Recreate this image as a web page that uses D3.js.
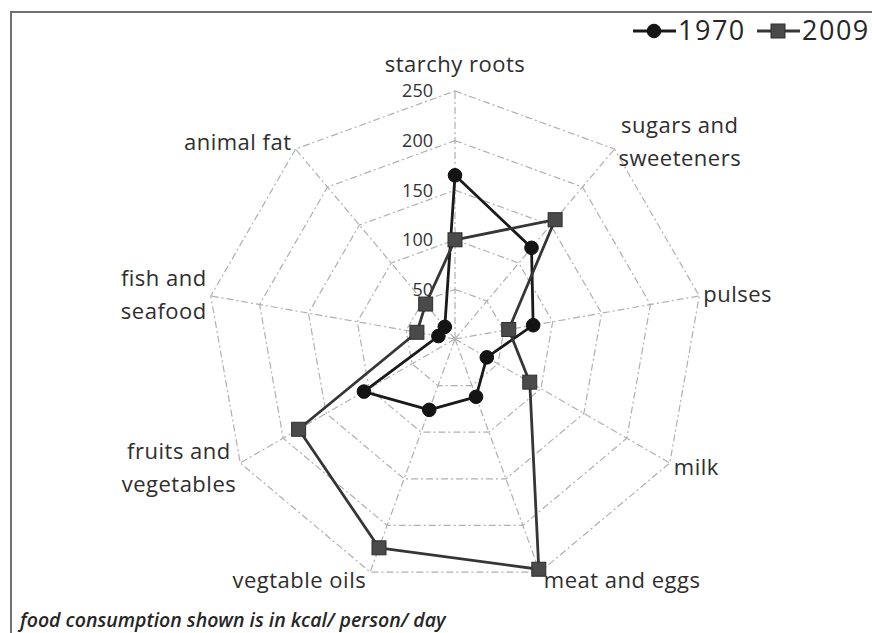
<!DOCTYPE html>
<html>
<head>
<meta charset="utf-8">
<script src="https://cdn.jsdelivr.net/npm/d3@7"></script>
<style>
  html, body { margin: 0; padding: 0; background: #fff; }
  svg { display: block; }
  text { font-family: "Open Sans", Lato, sans-serif; }
</style>
</head>
<body>
<svg id="chart" width="872" height="633"></svg>
<script>
// Food consumption by group, kcal per person per day
const categories = [
  "starchy roots",
  "sugars and\nsweeteners",
  "pulses",
  "milk",
  "meat and eggs",
  "vegtable oils",
  "fruits and\nvegetables",
  "fish and\nseafood",
  "animal fat"
];
const values1970 = [165, 120, 80, 37, 62, 76, 106, 17, 16];
const values2009 = [100, 157, 55, 87, 247, 224, 182, 39, 46];
const seriesNames = ["1970", "2009"];
const radialTicks = [50, 100, 150, 200, 250];
const note = "food consumption shown is in kcal/ person/ day";

const svg = d3.select("#chart");
const W = 872, H = 633;
const cx = 455, cy = 339, R = 248;

// frame around the plot
svg.append("rect")
  .attr("x", 11).attr("y", 12)
  .attr("width", W + 20).attr("height", H + 20)
  .attr("fill", "none")
  .attr("stroke", "#707070")
  .attr("stroke-width", 2);

const r = d3.scaleLinear().domain([0, 250]).range([0, R]);
const angle = d3.scaleLinear().domain([0, categories.length]).range([0, 2 * Math.PI]);
const pt = (i, v) => [cx + Math.sin(angle(i)) * r(v), cy - Math.cos(angle(i)) * r(v)];

const g = svg.append("g");

// grid rings
radialTicks.forEach(t => {
  g.append("path")
    .attr("d", d3.line()(categories.map((c, i) => pt(i, t))) + "Z")
    .attr("fill", "none")
    .attr("stroke", "#b0b0b0")
    .attr("stroke-width", 1.2)
    .attr("stroke-dasharray", "7,3,2,3");
});

// spokes
categories.forEach((c, i) => {
  const [x, y] = pt(i, 250);
  g.append("line")
    .attr("x1", cx).attr("y1", cy).attr("x2", x).attr("y2", y)
    .attr("stroke", "#b0b0b0")
    .attr("stroke-width", 1.2)
    .attr("stroke-dasharray", "7,3,2,3");
});

// radial tick labels
radialTicks.forEach(t => {
  g.append("text")
    .attr("x", cx - 22)
    .attr("y", cy - r(t))
    .attr("dy", "0.35em")
    .attr("text-anchor", "end")
    .attr("font-size", 18)
    .attr("fill", "#333")
    .text(t);
});

// category labels, placed just outside the end of each spoke
const lineH = 33;
categories.forEach((c, i) => {
  const a = angle(i);
  const s = Math.sin(a), co = Math.cos(a);
  const [ex, ey] = pt(i, 250);
  const lines = c.split("\n");
  const t = g.append("text")
    .attr("font-size", 22)
    .attr("letter-spacing", 0.5)
    .attr("fill", "#2e2e2e")
    .attr("text-anchor", "middle");
  const yc = Math.abs(s) < 0.1
    ? ey - co * (lineH * lines.length / 2 + 10)
    : ey - co * 9;
  lines.forEach((ln, k) => {
    t.append("tspan")
      .attr("x", ex)
      .attr("y", yc + (k - (lines.length - 1) / 2) * lineH)
      .attr("dy", "0.35em")
      .text(ln);
  });
  if (Math.abs(s) >= 0.1) {
    const w = t.node().getBBox().width;
    const mid = s > 0 ? ex + 4 + w / 2 : ex - 4 - w / 2;
    t.selectAll("tspan").attr("x", mid);
  }
});

// series
const series = [
  { name: seriesNames[0], values: values1970, line: "#1a1a1a", marker: "circle", fill: "#141414" },
  { name: seriesNames[1], values: values2009, line: "#363636", marker: "square", fill: "#4a4a4a" }
];

const lineGen = d3.line();
series.forEach(sr => {
  const pts = sr.values.map((v, i) => pt(i, v));
  g.append("path")
    .attr("d", lineGen(pts) + "Z")
    .attr("fill", "none")
    .attr("stroke", sr.line)
    .attr("stroke-width", 2.8)
    .attr("stroke-linejoin", "round");
});

function drawMarker(sel, type, x, y, fill) {
  if (type === "circle") {
    sel.append("circle").attr("cx", x).attr("cy", y).attr("r", 6.8)
      .attr("fill", fill).attr("stroke", "#111").attr("stroke-width", 1);
  } else {
    sel.append("rect").attr("x", x - 7).attr("y", y - 7)
      .attr("width", 14).attr("height", 14)
      .attr("fill", fill).attr("stroke", "#2e2e2e").attr("stroke-width", 1);
  }
}

series.forEach(sr => {
  sr.values.forEach((v, i) => {
    const [x, y] = pt(i, v);
    drawMarker(g, sr.marker, x, y, sr.fill);
  });
});

// legend
const leg = svg.append("g");
const legendX = [633, 757];
series.forEach((sr, k) => {
  const x0 = legendX[k];
  leg.append("line")
    .attr("x1", x0).attr("x2", x0 + 43)
    .attr("y1", 31).attr("y2", 31)
    .attr("stroke", sr.line).attr("stroke-width", 2.8);
  drawMarker(leg, sr.marker, x0 + 21, 31, sr.fill);
  leg.append("text")
    .attr("x", x0 + 45).attr("y", 31).attr("dy", "0.35em")
    .attr("font-size", 27)
    .attr("letter-spacing", 1.5)
    .attr("fill", "#262626")
    .text(sr.name);
});

// unit note
svg.append("text")
  .attr("x", 20).attr("y", 620).attr("dy", "0.35em")
  .attr("font-size", 19.5)
  .attr("font-style", "italic")
  .attr("font-weight", 600)
  .attr("fill", "#262626")
  .text(note);
</script>
</body>
</html>
